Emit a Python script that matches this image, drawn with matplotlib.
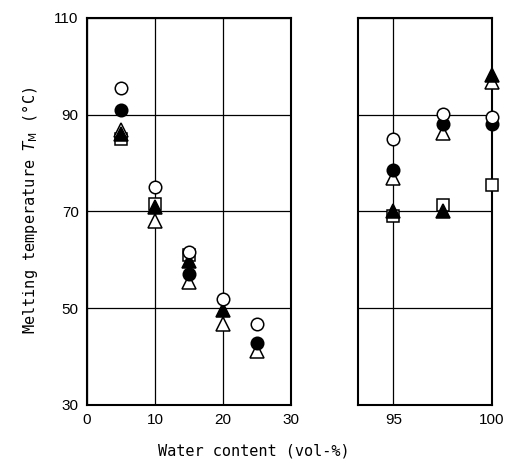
import matplotlib.pyplot as plt

# low water content panel
x_lo = [5, 10, 15, 20, 25]
open_circle_lo = [95.5, 75, 61.6, 52, 46.7]
filled_circle_lo = [91, None, 57, None, 42.8]
open_tri_lo = [86.8, 68, 55.5, 46.7, 41.2]
filled_tri_lo = [86, 71, 59.8, 49.7, None]
open_sq_lo = [85, 71.5, 61, None, None]

# high water content panel
x_hi = [95, 97.5, 100]
open_circle_hi = [85, 90.2, 89.5]
filled_circle_hi = [78.6, 88, 88]
open_tri_hi = [77, 86.2, 96.8]
filled_tri_hi = [70, 70, 98.2]
open_sq_hi = [69, 71.3, 75.5]


def pts(xs, ys):
    pairs = [(a, b) for a, b in zip(xs, ys) if b is not None]
    return [p[0] for p in pairs], [p[1] for p in pairs]


def draw(ax, xs, sq, otri, ftri, fcirc, ocirc):
    ms = 9
    kw = dict(linestyle='none', markeredgecolor='black', markeredgewidth=1.1,
              markersize=ms, clip_on=False, zorder=3)
    ax.plot(*pts(xs, sq), marker='s', markerfacecolor='white', **kw)
    ax.plot(*pts(xs, otri), marker='^', markerfacecolor='white', markersize=ms + 1,
            **{k: v for k, v in kw.items() if k != 'markersize'})
    ax.plot(*pts(xs, ftri), marker='^', markerfacecolor='black', markersize=ms + 1,
            **{k: v for k, v in kw.items() if k != 'markersize'})
    ax.plot(*pts(xs, fcirc), marker='o', markerfacecolor='black', **kw)
    ax.plot(*pts(xs, ocirc), marker='o', markerfacecolor='white', **kw)


fig = plt.figure(figsize=(5.07, 4.67), dpi=100)
ax1 = fig.add_axes([0.1716, 0.1328, 0.4024, 0.8287])
ax2 = fig.add_axes([0.7061, 0.1328, 0.2643, 0.8287])

for ax in (ax1, ax2):
    ax.set_ylim(30, 110)
    ax.set_yticks([30, 50, 70, 90, 110])
    ax.grid(True, color='black', linewidth=0.9)
    ax.set_axisbelow(True)
    for s in ax.spines.values():
        s.set_linewidth(1.5)
    ax.tick_params(length=0, labelsize=11, pad=6)
    for lab in ax.get_xticklabels() + ax.get_yticklabels():
        lab.set_family('Liberation Sans')

ax1.set_xlim(0, 30)
ax1.set_xticks([0, 10, 20, 30])
ax2.set_xlim(93.2, 100)
ax2.set_xticks([95, 100])
ax2.set_yticklabels([])

draw(ax1, x_lo, open_sq_lo, open_tri_lo, filled_tri_lo, filled_circle_lo, open_circle_lo)
draw(ax2, x_hi, open_sq_hi, open_tri_hi, filled_tri_hi, filled_circle_hi, open_circle_hi)

fig.text(0.5, 0.035, 'Water content (vol-%)', ha='center', va='center',
         family='DejaVu Sans Mono', fontsize=11)
fig.text(0.06, 0.55, r'Melting temperature $T_{\mathrm{M}}$ (°C)', ha='center', va='center',
         rotation=90, family='DejaVu Sans Mono', fontsize=11)

fig.savefig('out.png', dpi=100)
